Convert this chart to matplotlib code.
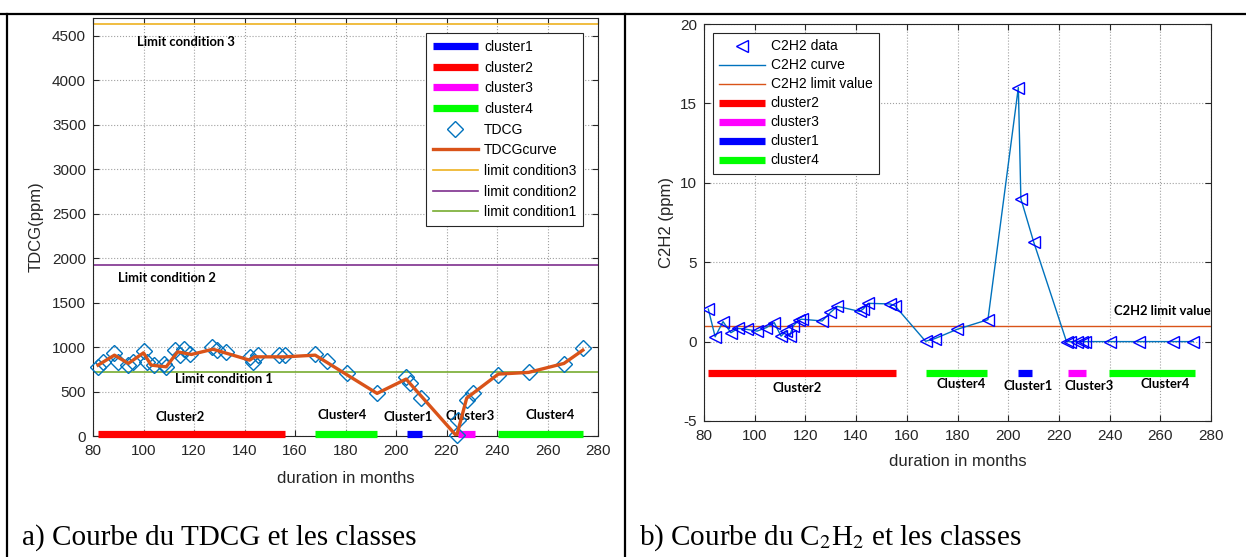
import matplotlib
matplotlib.use("Agg")
import matplotlib.pyplot as plt
from matplotlib.lines import Line2D

# ---------------- data: left panel (TDCG) ----------------
tdcg_months = [82, 84, 88.5, 90, 94, 96, 100, 101.5, 104, 108, 109, 112.5, 114.5, 116,
               118.5, 127, 129, 132.5, 142, 143.5, 145.5, 153.5, 156, 168, 172.5, 180.5,
               192.5, 204, 205.5, 210, 224, 224.5, 228, 230.5, 240.5, 252.5, 266.5, 274]
tdcg_values = [778, 834, 935, 834, 801, 834, 957, 834, 801, 815, 778, 963, 908, 980,
               925, 1000, 963, 945, 888, 834, 908, 908, 908, 920, 845, 703,
               479, 666, 591, 423, 11, 180, 404, 479, 685, 715, 804, 984]
curve_months = [82, 88.5, 94, 100, 103, 109, 113.5, 119, 127.5, 142, 144, 156, 168,
                192.5, 204, 224, 228, 240.5, 252.5, 266.5, 274]
curve_values = [797, 909, 816, 935, 797, 778, 946, 917, 976, 853, 890, 890, 909,
                479, 640, 0, 426, 696, 715, 816, 965]
limit_values = {"limit condition3": 4630, "limit condition2": 1920, "limit condition1": 720}
limit_text = ["Limit condition 3", "Limit condition 2", "Limit condition 1"]

# cluster segments (start, end) in months
cluster_names = ["cluster1", "cluster2", "cluster3", "cluster4"]
cluster_segments_left = {
    "cluster1": [(204.2, 210.2)],
    "cluster2": [(82, 156)],
    "cluster3": [(224.7, 231.3)],
    "cluster4": [(168, 192.4), (240.5, 274.2)],
}
cluster_label_left = [("Cluster2", 114.5, 217), ("Cluster4", 178.5, 236), ("Cluster1", 204.8, 217),
                      ("Cluster3", 229.3, 220), ("Cluster4", 261, 236)]

# ---------------- data: right panel (C2H2) ----------------
c2h2_months = [81.7, 84.4, 87.5, 90.6, 93.5, 96.9, 100.9, 104.6, 107.7, 110.4, 112.4, 113.8,
               115.1, 117.5, 118.5, 126.6, 129.9, 132.6, 141.4, 142.8, 144.8, 153.5, 155.3,
               167.4, 171.1, 179.8, 192, 204, 205, 210, 223, 224.5, 227, 229, 230.2, 240,
               251.5, 265, 273]
c2h2_values = [2.05, 0.30, 1.26, 0.56, 0.83, 0.77, 0.66, 0.88, 1.2, 0.34, 0.66, 0.34,
               0.98, 1.35, 1.41, 1.30, 1.84, 2.22, 1.90, 2.05, 2.41, 2.37, 2.26,
               0.02, 0.19, 0.77, 1.38, 16.0, 9.0, 6.3, 0, 0, 0, 0, 0, 0,
               0, 0, 0]
c2h2_limit = 1.0
cluster_order_right = ["cluster2", "cluster3", "cluster1", "cluster4"]
cluster_segments_right = {
    "cluster1": [(203.8, 209.5)],
    "cluster2": [(81.7, 155.6)],
    "cluster3": [(223.7, 230.8)],
    "cluster4": [(167.7, 191.7), (239.9, 273.6)],
}
cluster_label_right = [("Cluster2", 116.7, -2.9), ("Cluster4", 181.5, -2.7), ("Cluster1", 207.8, -2.8),
                       ("Cluster3", 231.8, -2.8), ("Cluster4", 262, -2.7)]

x_ticks = list(range(80, 281, 20))
left_yticks = list(range(0, 4501, 500))
right_yticks = list(range(-5, 21, 5))

cluster_colors = {"cluster1": "#0000ff", "cluster2": "#ff0000", "cluster3": "#ff00ff", "cluster4": "#00ff00"}
limit_colors = {"limit condition3": "#EDB120", "limit condition2": "#7E2F8E", "limit condition1": "#77AC30"}

plt.rcParams["font.family"] = ["Liberation Sans", "DejaVu Sans"]
plt.rcParams["mathtext.fontset"] = "stix"
plt.rcParams["axes.unicode_minus"] = False

W, H = 1246, 557
fig = plt.figure(figsize=(W / 100, H / 100), dpi=100)


def style_axes(ax):
    ax.set_xlim(80, 280)
    ax.set_xticks(x_ticks)
    ax.tick_params(direction="in", top=True, right=True, length=4, labelsize=11, colors="#262626")
    ax.tick_params(axis="x", pad=6)
    ax.tick_params(axis="y", pad=5)
    ax.grid(True, linestyle=":", color="#a0a0a0", linewidth=0.8)
    for s in ax.spines.values():
        s.set_color("#262626")
        s.set_linewidth(0.8)
    ax.set_axisbelow(True)


# ---------------- left axes ----------------
axL = fig.add_axes([93 / W, 1 - 436 / H, 505 / W, 418 / H])
style_axes(axL)
axL.set_ylim(0, 4700)
axL.set_yticks(left_yticks)

handles = []
for name in cluster_names:
    first = None
    for i, (a, b) in enumerate(cluster_segments_left[name]):
        ln, = axL.plot([a, b], [25, 25], color=cluster_colors[name], lw=5.2,
                       solid_capstyle="butt", clip_on=False, zorder=3,
                       label=name if i == 0 else None)
        if first is None:
            first = ln
    handles.append(first)
hd, = axL.plot(tdcg_months, tdcg_values, linestyle="none", marker="D", markersize=8,
               markerfacecolor="none", markeredgecolor="#0072BD", markeredgewidth=1.0,
               label="TDCG", zorder=4, clip_on=False)
hc, = axL.plot(curve_months, curve_values, color="#D95319", lw=2.4, label="TDCGcurve", zorder=5)
handles += [hd, hc]
for name, val in limit_values.items():
    hl, = axL.plot([80, 280], [val, val], color=limit_colors[name], lw=1.2, label=name, zorder=2)
    handles.append(hl)

lbl_font = dict(family=["Lato", "DejaVu Sans"], fontweight="bold", fontsize=9.4, ha="center", va="center")
axL.text(116.8, 4433, limit_text[0], **lbl_font)
axL.text(109.1, 1773, limit_text[1], **lbl_font)
axL.text(132, 636, limit_text[2], **lbl_font)
for t, x, y in cluster_label_left:
    axL.text(x, y, t, **lbl_font)

axL.set_ylabel("TDCG(ppm)", fontsize=12, color="#262626", labelpad=6)
axL.set_xlabel("duration in months", fontsize=12, color="#262626", labelpad=9)
legL = axL.legend(handles=handles, loc="upper right", bbox_to_anchor=(0.971, 0.964),
                  borderaxespad=0, fontsize=10, frameon=True, fancybox=False,
                  edgecolor="#262626", framealpha=1, handlelength=3.3, handletextpad=0.4,
                  labelspacing=0.48, borderpad=0.5)
legL.get_frame().set_linewidth(0.8)

# ---------------- right axes ----------------
axR = fig.add_axes([704 / W, 1 - 421 / H, 507 / W, 397 / H])
style_axes(axR)
axR.set_ylim(-5, 20)
axR.set_yticks(right_yticks)

hdata, = axR.plot(c2h2_months, c2h2_values, linestyle="none", marker="<", markersize=9,
                  markerfacecolor="none", markeredgecolor="#0000ff", markeredgewidth=1.0,
                  label="C2H2 data", zorder=4)
hcurve, = axR.plot(c2h2_months, c2h2_values, color="#0072BD", lw=1.0, label="C2H2 curve", zorder=3)
hlim, = axR.plot([80, 280], [c2h2_limit, c2h2_limit], color="#D95319", lw=1.0,
                 label="C2H2 limit value", zorder=2)
handlesR = [hdata, hcurve, hlim]
for name in cluster_order_right:
    first = None
    for i, (a, b) in enumerate(cluster_segments_right[name]):
        ln, = axR.plot([a, b], [-2, -2], color=cluster_colors[name], lw=5.2,
                       solid_capstyle="butt", zorder=3, label=name if i == 0 else None)
        if first is None:
            first = ln
    handlesR.append(first)
for t, x, y in cluster_label_right:
    axR.text(x, y, t, **lbl_font)
axR.text(261, 1.95, "C2H2 limit value", **lbl_font)

axR.set_ylabel("C2H2 (ppm)", fontsize=12, color="#262626", labelpad=4)
axR.set_xlabel("duration in months", fontsize=12, color="#262626", labelpad=8)
legR = axR.legend(handles=handlesR, loc="upper left", bbox_to_anchor=(0.018, 0.977),
                  borderaxespad=0, fontsize=10, frameon=True, fancybox=False,
                  edgecolor="#262626", framealpha=1, handlelength=3.3, handletextpad=0.4,
                  labelspacing=0.36, borderpad=0.45)
legR.get_frame().set_linewidth(0.8)

# ---------------- table frame and captions ----------------
def fline(x0, y0, x1, y1):
    fig.add_artist(Line2D([x0 / W, x1 / W], [1 - y0 / H, 1 - y1 / H], color="black", lw=1.6,
                          transform=fig.transFigure))

fline(0, 14, W, 14)
fline(7, 14, 7, H)
fline(625, 14, 625, H)

cap_font = dict(family=["Liberation Serif", "DejaVu Serif"], fontsize=21, ha="left", va="baseline")
fig.text(22 / W, 1 - 545 / H, "a) Courbe du TDCG et les classes", **cap_font)
fig.text(639 / W, 1 - 545 / H, r"b) Courbe du C$_2$H$_2$ et les classes", **cap_font)

fig.savefig("out.png", dpi=100)
